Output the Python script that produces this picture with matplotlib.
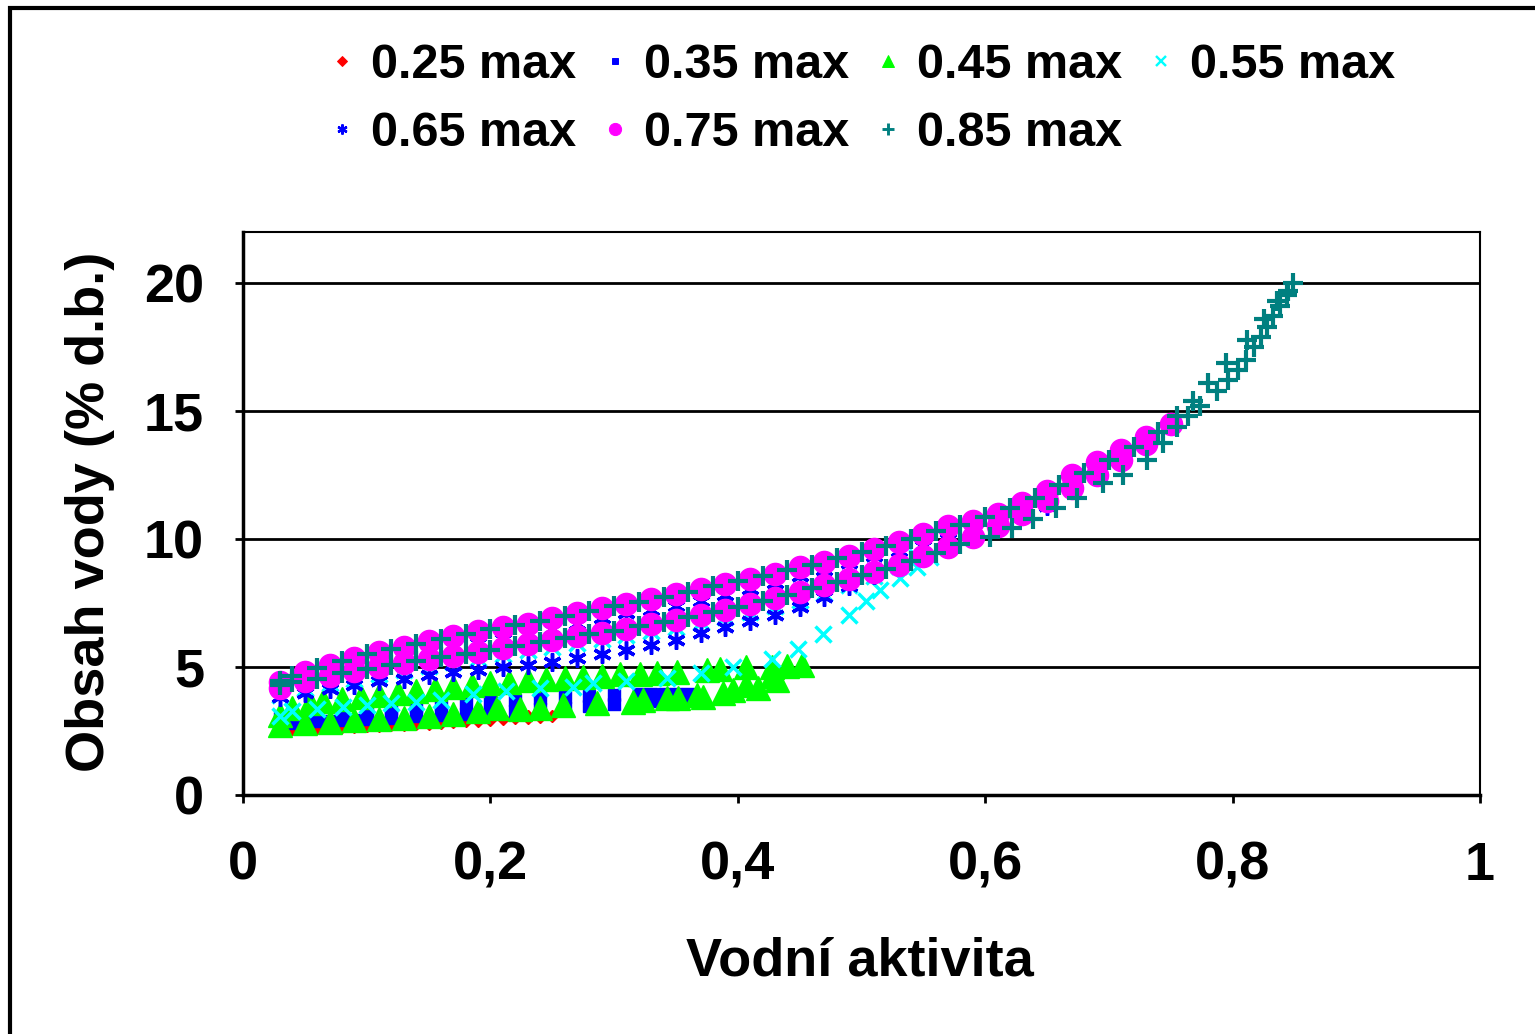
import matplotlib
matplotlib.use('Agg')
import matplotlib.pyplot as plt
from matplotlib.lines import Line2D
from matplotlib.patches import Rectangle

plt.rcParams['font.family'] = ['Liberation Sans', 'DejaVu Sans']
plt.rcParams['font.weight'] = 'bold'

# 0.25 max
aw_025 = [0.03, 0.04, 0.05, 0.06, 0.07, 0.08, 0.09, 0.10, 0.11, 0.12, 0.13, 0.14, 0.15, 0.16, 0.17, 0.18,
          0.19, 0.20, 0.21, 0.22, 0.23, 0.24, 0.25,
          0.24, 0.23, 0.22, 0.21, 0.20, 0.19, 0.18, 0.17, 0.16, 0.15, 0.14, 0.13, 0.12, 0.11, 0.10, 0.09,
          0.08, 0.07, 0.06, 0.05, 0.04, 0.03]
w_025 = [2.55, 2.57, 2.59, 2.61, 2.63, 2.65, 2.67, 2.69, 2.71, 2.73, 2.75, 2.77, 2.79, 2.82, 2.85, 2.88,
         2.91, 2.94, 2.97, 3.00, 3.03, 3.06, 3.10,
         3.09, 3.07, 3.05, 3.03, 3.01, 2.99, 2.97, 2.95, 2.93, 2.91, 2.89, 2.87, 2.85, 2.83, 2.81, 2.80,
         2.78, 2.76, 2.74, 2.72, 2.70, 2.68]

# 0.35 max
aw_035 = [0.03, 0.04, 0.05, 0.06, 0.07, 0.08, 0.09, 0.10, 0.12, 0.14, 0.16, 0.18, 0.20, 0.22, 0.24, 0.26,
          0.28, 0.30, 0.32, 0.33, 0.34, 0.35, 0.36,
          0.36, 0.35, 0.34, 0.33, 0.32, 0.30, 0.28, 0.26, 0.24, 0.22, 0.20, 0.18, 0.16, 0.14, 0.12, 0.10,
          0.08, 0.06, 0.04, 0.03]
w_035 = [2.80, 2.83, 2.86, 2.88, 2.90, 2.92, 2.95, 2.97, 3.02, 3.07, 3.12, 3.18, 3.24, 3.30, 3.36, 3.42,
         3.48, 3.55, 3.63, 3.68, 3.73, 3.80, 3.88,
         3.95, 3.96, 3.96, 3.95, 3.93, 3.90, 3.87, 3.83, 3.78, 3.72, 3.66, 3.59, 3.52, 3.45, 3.38, 3.32,
         3.25, 3.17, 3.08, 3.00]

# 0.45 max
aw_045 = [0.03, 0.05, 0.07, 0.09, 0.11, 0.13, 0.15, 0.17, 0.19, 0.205, 0.224, 0.24, 0.259, 0.286, 0.315,
          0.323, 0.343, 0.352, 0.367, 0.372, 0.388, 0.396, 0.407, 0.416, 0.428, 0.432, 0.452,
          0.44, 0.428, 0.407, 0.386, 0.375, 0.351, 0.335, 0.321, 0.305, 0.29, 0.275, 0.26, 0.245, 0.23,
          0.215, 0.20, 0.185, 0.17, 0.155, 0.14, 0.125, 0.11, 0.095, 0.08, 0.065, 0.054, 0.04, 0.03]
w_045 = [2.75, 2.80, 2.85, 2.92, 2.98, 3.03, 3.08, 3.18, 3.28, 3.40, 3.35, 3.42, 3.50, 3.60, 3.62,
         3.70, 3.78, 3.80, 3.90, 3.85, 4.00, 4.10, 4.30, 4.20, 4.65, 4.50, 5.10,
         5.05, 5.00, 5.00, 4.92, 4.90, 4.82, 4.78, 4.72, 4.72, 4.66, 4.62, 4.58, 4.52, 4.48,
         4.42, 4.36, 4.30, 4.22, 4.15, 4.06, 3.98, 3.90, 3.82, 3.74, 3.66, 3.58, 3.40, 3.12]

# 0.55 max
aw_055 = [0.03, 0.04, 0.06, 0.081, 0.10, 0.12, 0.14, 0.16, 0.186, 0.213, 0.24, 0.267, 0.283, 0.31,
          0.343, 0.37, 0.396, 0.428, 0.449, 0.469, 0.49, 0.504, 0.515, 0.531, 0.545, 0.555,
          0.545, 0.53, 0.51, 0.49, 0.47, 0.45, 0.43, 0.41, 0.39, 0.37, 0.35, 0.33, 0.31, 0.29, 0.27,
          0.25, 0.23, 0.21, 0.19, 0.17, 0.15, 0.13, 0.11, 0.09, 0.07, 0.05, 0.03]
w_055 = [3.10, 3.30, 3.38, 3.45, 3.52, 3.60, 3.65, 3.72, 3.95, 4.08, 4.18, 4.22, 4.38, 4.45,
         4.58, 4.78, 5.00, 5.30, 5.70, 6.30, 7.05, 7.60, 8.00, 8.50, 8.90, 9.30,
         9.30, 8.95, 8.55, 8.20, 7.90, 7.62, 7.38, 7.15, 6.95, 6.75, 6.58, 6.42, 6.26, 6.10, 5.95,
         5.80, 5.65, 5.50, 5.35, 5.20, 5.05, 4.90, 4.72, 4.55, 4.38, 4.18, 3.90]

# 0.65 max
aw_065 = [0.03, 0.05, 0.07, 0.09, 0.11, 0.13, 0.15, 0.17, 0.19, 0.21, 0.23, 0.25, 0.27, 0.29, 0.31,
          0.33, 0.35, 0.37, 0.39, 0.41, 0.43, 0.45, 0.47, 0.49, 0.51, 0.53, 0.55, 0.57, 0.59, 0.61,
          0.63, 0.65,
          0.63, 0.61, 0.59, 0.57, 0.55, 0.53, 0.51, 0.49, 0.47, 0.45, 0.43, 0.41, 0.39, 0.37, 0.35,
          0.33, 0.31, 0.29, 0.27, 0.25, 0.23, 0.21, 0.19, 0.17, 0.15, 0.13, 0.11, 0.09, 0.07, 0.05, 0.03]
w_065 = [3.85, 4.00, 4.15, 4.30, 4.45, 4.55, 4.70, 4.80, 4.90, 5.00, 5.10, 5.20, 5.35, 5.50, 5.65,
         5.85, 6.05, 6.35, 6.55, 6.80, 7.05, 7.35, 7.75, 8.15, 8.60, 9.00, 9.30, 9.70, 10.10, 10.50,
         10.90, 11.30,
         10.95, 10.60, 10.30, 10.00, 9.75, 9.55, 9.35, 9.05, 8.80, 8.55, 8.30, 8.05, 7.80, 7.60, 7.40,
         7.25, 7.10, 6.90, 6.70, 6.50, 6.30, 6.10, 5.95, 5.80, 5.60, 5.45, 5.25, 5.05, 4.85, 4.60, 4.30]

# 0.75 max
aw_075 = [0.03, 0.05, 0.07, 0.09, 0.11, 0.13, 0.15, 0.17, 0.19, 0.21, 0.23, 0.25, 0.27, 0.29, 0.31,
          0.33, 0.35, 0.37, 0.39, 0.41, 0.43, 0.45, 0.47, 0.49, 0.51, 0.53, 0.55, 0.57, 0.59, 0.61,
          0.63, 0.65, 0.67, 0.69, 0.71, 0.73, 0.75,
          0.73, 0.71, 0.69, 0.67, 0.65, 0.63, 0.61, 0.59, 0.57, 0.55, 0.53, 0.51, 0.49, 0.47, 0.45,
          0.43, 0.41, 0.39, 0.37, 0.35, 0.33, 0.31, 0.29, 0.27, 0.25, 0.23, 0.21, 0.19, 0.17, 0.15,
          0.13, 0.11, 0.09, 0.07, 0.05, 0.03]
w_075 = [4.20, 4.45, 4.65, 4.85, 5.00, 5.15, 5.30, 5.45, 5.60, 5.75, 5.90, 6.05, 6.20, 6.35, 6.50,
         6.70, 6.85, 7.05, 7.25, 7.45, 7.70, 7.95, 8.20, 8.45, 8.70, 9.00, 9.35, 9.70, 10.10, 10.50,
         11.00, 11.50, 12.00, 12.50, 13.10, 13.70, 14.50,
         14.00, 13.50, 13.00, 12.50, 11.90, 11.40, 11.00, 10.70, 10.50, 10.20, 9.90, 9.60, 9.35, 9.10,
         8.90, 8.65, 8.45, 8.25, 8.05, 7.85, 7.65, 7.45, 7.30, 7.10, 6.90, 6.70, 6.55, 6.40, 6.20, 6.00,
         5.80, 5.60, 5.35, 5.10, 4.80, 4.40]

# 0.85 max
aw_085 = [0.03, 0.04, 0.06, 0.08, 0.10, 0.12, 0.14, 0.16, 0.18, 0.20, 0.22, 0.24, 0.26, 0.28, 0.30,
          0.32, 0.34, 0.36, 0.38, 0.40, 0.42, 0.44, 0.46, 0.48, 0.50, 0.52, 0.54, 0.56, 0.58, 0.604,
          0.622, 0.639, 0.657, 0.674, 0.695, 0.711, 0.731, 0.744, 0.755, 0.764, 0.774, 0.787, 0.796,
          0.804, 0.811, 0.817, 0.823, 0.828, 0.833, 0.838, 0.844, 0.849,
          0.845, 0.836, 0.825, 0.812, 0.795, 0.78, 0.768, 0.755, 0.74, 0.72, 0.70, 0.68, 0.66, 0.64,
          0.62, 0.60, 0.58, 0.56, 0.54, 0.52, 0.50, 0.48, 0.46, 0.44, 0.42, 0.40, 0.38, 0.36, 0.34,
          0.32, 0.30, 0.28, 0.26, 0.24, 0.22, 0.20, 0.18, 0.16, 0.14, 0.12, 0.10, 0.08, 0.06, 0.04, 0.03]
w_085 = [4.30, 4.40, 4.55, 4.75, 4.92, 5.08, 5.22, 5.38, 5.52, 5.68, 5.82, 5.98, 6.12, 6.28, 6.42,
         6.60, 6.78, 6.95, 7.15, 7.35, 7.58, 7.82, 8.08, 8.32, 8.58, 8.85, 9.15, 9.45, 9.80, 10.10,
         10.45, 10.80, 11.20, 11.60, 12.20, 12.50, 13.10, 13.75, 14.40, 14.80, 15.20, 15.80, 16.20,
         16.60, 17.00, 17.50, 17.90, 18.30, 18.70, 19.10, 19.55, 20.00,
         19.70, 19.30, 18.60, 17.80, 16.90, 16.10, 15.40, 14.80, 14.20, 13.60, 13.10, 12.60, 12.10, 11.60,
         11.20, 10.85, 10.55, 10.30, 10.00, 9.75, 9.50, 9.25, 9.00, 8.80, 8.55, 8.35, 8.15, 7.95, 7.75,
         7.55, 7.40, 7.20, 7.00, 6.80, 6.65, 6.50, 6.30, 6.10, 5.90, 5.70, 5.50, 5.25, 4.95, 4.65, 4.45]

labels = ['0.25 max', '0.35 max', '0.45 max', '0.55 max', '0.65 max', '0.75 max', '0.85 max']
xs = [aw_025, aw_035, aw_045, aw_055, aw_065, aw_075, aw_085]
ys = [w_025, w_035, w_045, w_055, w_065, w_075, w_085]
markers = ['D', 's', '^', 'x', (6, 2, 0), 'o', '+']
colors = ['#FF0000', '#0000FF', '#00FF00', '#00FFFF', '#0000FF', '#FF00FF', '#008080']
sizes = [6, 9, 17, 12, 13, 16, 15]
mews = [1, 1, 1, 2.5, 2.5, 1, 3]

fig = plt.figure(figsize=(15.35, 10.34), dpi=100)
ax = fig.add_axes([0.1583, 0.2311, 0.8059, 0.5445])

for i in range(len(labels)):
    ax.plot(xs[i], ys[i], linestyle='none', marker=markers[i], color=colors[i],
            markersize=sizes[i], markeredgewidth=mews[i], markeredgecolor=colors[i])

ax.set_xlim(0, 1)
ax.set_ylim(0, 22)
ax.set_xticks([0, 0.2, 0.4, 0.6, 0.8, 1])
ax.set_xticklabels(['0', '0,2', '0,4', '0,6', '0,8', '1'])
ax.set_yticks([0, 5, 10, 15, 20])
for yv in [5, 10, 15, 20]:
    ax.axhline(yv, color='black', lw=2, zorder=0.5)
for s in ax.spines.values():
    s.set_linewidth(1.5)
ax.spines['left'].set_linewidth(2.5)
ax.spines['bottom'].set_linewidth(2.5)
ax.tick_params(direction='out', length=6, width=2, labelsize=39)
ax.tick_params(axis='x', pad=27)
ax.tick_params(axis='y', pad=22)
for t in ax.get_xticklabels() + ax.get_yticklabels():
    t.set_fontweight('bold')

fig.text(860 / 1535, 1 - 962 / 1034, 'Vodní aktivita', fontsize=39, fontweight='bold',
         ha='center', va='center')
fig.text(90 / 1535, 1 - 512 / 1034, 'Obsah vody (% d.b.)', fontsize=39, fontweight='bold',
         ha='center', va='center', rotation=90)

# legend filled row by row as in the original
order = [0, 4, 1, 5, 2, 6, 3]
handles = []
for i in order:
    handles.append(Line2D([], [], linestyle='none', marker=markers[i], color=colors[i],
                          markersize=max(5, sizes[i] * 0.55), markeredgewidth=mews[i] * 0.7,
                          markeredgecolor=colors[i]))
leg = fig.legend(handles, [labels[i] for i in order], loc='upper left', bbox_to_anchor=(0.185, 1.001),
                 ncol=4, frameon=False, prop={'size': 35, 'weight': 'bold'}, handlelength=0.6,
                 handletextpad=0.3, columnspacing=0.49, labelspacing=0.48)

fig.add_artist(Rectangle((10 / 1535, -0.01), 1.1, 1 - 8 / 1034 + 0.01, transform=fig.transFigure,
                         fill=False, edgecolor='black', linewidth=3))

fig.savefig('out.png', dpi=100)
